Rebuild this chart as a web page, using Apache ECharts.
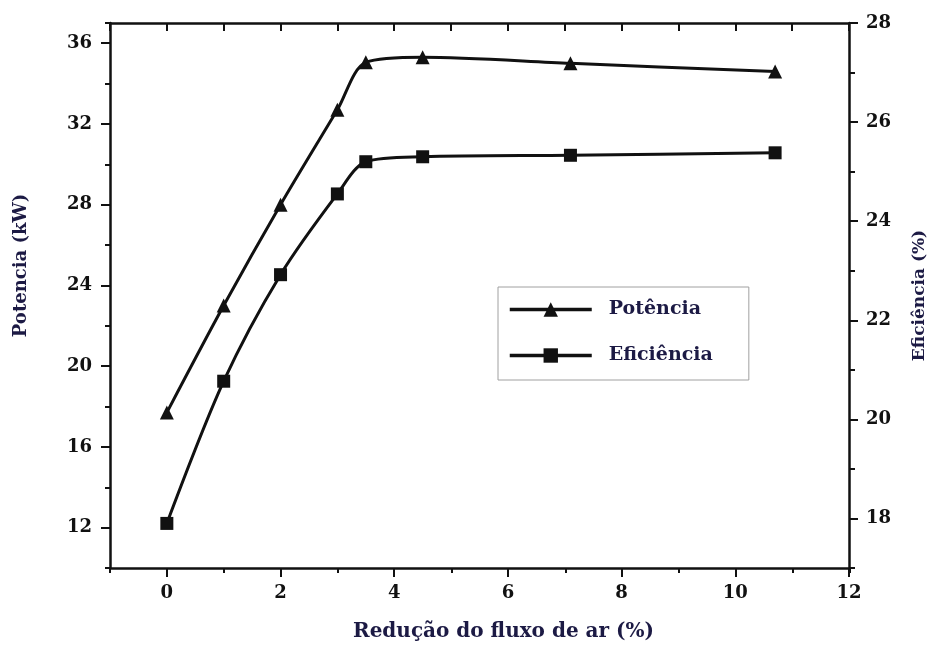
<!DOCTYPE html>
<html>
<head>
<meta charset="utf-8">
<script src="https://cdn.jsdelivr.net/npm/echarts@6/dist/echarts.min.js"></script>
<style>
  html, body { margin: 0; padding: 0; background: #ffffff; }
  #chart { width: 936px; height: 650px; }
</style>
</head>
<body>
<div id="chart"></div>
<script>
// Air-flow reduction (%) at each measured point
var reducao = [0, 1, 2, 3, 3.5, 4.5, 7.1, 10.7];
// Power output (kW), left axis
var potencia = [17.7, 23.0, 28.0, 32.7, 35.05, 35.3, 35.0, 34.6];
// Efficiency (%), right axis
var eficiencia = [17.9, 20.77, 22.92, 24.55, 25.2, 25.3, 25.33, 25.38];

// Labelled tick values
var xTicks = [0, 2, 4, 6, 8, 10, 12];
var potTicks = [12, 16, 20, 24, 28, 32, 36];
var efTicks = [18, 20, 22, 24, 26, 28];

var serif = '"DejaVu Serif", "Liberation Serif", serif';
var ink = '#111111';
var titleInk = '#1c1a44';
var lineW = 2.5;

function pairs(xs, ys) {
  return xs.map(function (x, i) { return [x, ys[i]]; });
}

var tickLabel = { color: ink, fontFamily: serif, fontWeight: 'bold', fontSize: 18 };
var axisLine = { show: true, onZero: false, lineStyle: { color: ink, width: lineW } };
var noLine = { show: false, onZero: false };

var chart = echarts.init(document.getElementById('chart'), null, { renderer: 'canvas' });

var gridBox = { left: 110, right: 86, top: 23, bottom: 82 };

chart.setOption({
  backgroundColor: '#ffffff',
  animation: false,
  grid: [
    Object.assign({}, gridBox),
    Object.assign({}, gridBox)
  ],
  legend: {
    orient: 'vertical',
    left: 498,
    top: 287,
    padding: [13, 36, 15, 10],
    itemWidth: 82,
    itemHeight: 18,
    itemGap: 27,
    borderColor: '#a0a0a0',
    borderWidth: 1,
    backgroundColor: '#ffffff',
    lineStyle: { width: 3.5 },
    textStyle: {
      color: titleInk, fontFamily: serif, fontWeight: 'bold', fontSize: 19,
      padding: [0, 0, 0, 12]
    },
    data: ['Potência', 'Eficiência']
  },
  xAxis: [
    {
      gridIndex: 0, type: 'value', position: 'bottom',
      min: -1, max: 12,
      axisLine: axisLine,
      axisTick: { show: true, customValues: xTicks, length: 9, lineStyle: { color: ink, width: 2 } },
      axisLabel: Object.assign({ customValues: xTicks, margin: 16 }, tickLabel),
      splitLine: { show: false },
      name: 'Redução do fluxo de ar (%)',
      nameLocation: 'middle',
      nameGap: 54,
      nameTextStyle: {
        color: titleInk, fontFamily: serif, fontWeight: 'bold', fontSize: 20,
        padding: [0, 0, 0, 48]
      }
    },
    {
      gridIndex: 0, type: 'value', position: 'top',
      min: -1, max: 12, interval: 1,
      axisLine: axisLine,
      axisTick: { show: true, inside: true, length: 8, lineStyle: { color: ink, width: 2 } },
      axisLabel: { show: false },
      splitLine: { show: false }
    },
    {
      // odd-valued minor ticks along the bottom edge
      gridIndex: 1, type: 'value', position: 'bottom',
      min: -1, max: 12, interval: 2,
      axisLine: noLine,
      axisTick: { show: true, length: 5, lineStyle: { color: ink, width: 2 } },
      axisLabel: { show: false },
      splitLine: { show: false }
    }
  ],
  yAxis: [
    {
      gridIndex: 0, type: 'value', position: 'left',
      min: 10, max: 37,
      axisLine: axisLine,
      axisTick: { show: true, customValues: potTicks, length: 9, lineStyle: { color: ink, width: 2 } },
      axisLabel: Object.assign({ customValues: potTicks, margin: 18 }, tickLabel),
      splitLine: { show: false },
      name: 'Potencia (kW)',
      nameLocation: 'middle',
      nameGap: 80,
      nameTextStyle: {
        color: titleInk, fontFamily: serif, fontWeight: 'bold', fontSize: 18,
        padding: [0, 0, 0, 60]
      }
    },
    {
      gridIndex: 0, type: 'value', position: 'right',
      min: 17, max: 28,
      axisLine: axisLine,
      axisTick: { show: true, customValues: efTicks, length: 9, lineStyle: { color: ink, width: 2 } },
      axisLabel: Object.assign({ customValues: efTicks, margin: 17 }, tickLabel),
      splitLine: { show: false },
      name: 'Eficiência (%)',
      nameLocation: 'middle',
      nameGap: 62,
      nameTextStyle: {
        color: titleInk, fontFamily: serif, fontWeight: 'bold', fontSize: 17
      }
    },
    {
      // minor ticks on the left edge
      gridIndex: 1, type: 'value', position: 'left',
      min: 10, max: 37, interval: 4,
      axisLine: noLine,
      axisTick: { show: true, length: 5, lineStyle: { color: ink, width: 2 } },
      axisLabel: { show: false },
      splitLine: { show: false }
    },
    {
      // minor ticks on the right edge
      gridIndex: 1, type: 'value', position: 'right',
      min: 17, max: 28, interval: 2,
      axisLine: noLine,
      axisTick: { show: true, length: 5, lineStyle: { color: ink, width: 2 } },
      axisLabel: { show: false },
      splitLine: { show: false }
    }
  ],
  series: [
    {
      name: 'Potência',
      type: 'line',
      xAxisIndex: 0, yAxisIndex: 0,
      data: pairs(reducao, potencia),
      smooth: 0.3,
      symbol: 'triangle',
      symbolSize: 14,
      lineStyle: { color: ink, width: 3 },
      itemStyle: { color: ink },
      z: 3
    },
    {
      name: 'Eficiência',
      type: 'line',
      xAxisIndex: 0, yAxisIndex: 1,
      data: pairs(reducao, eficiencia),
      smooth: 0.3,
      symbol: 'rect',
      symbolSize: 13,
      lineStyle: { color: ink, width: 3 },
      itemStyle: { color: ink },
      z: 3
    }
  ]
});
</script>
</body>
</html>
